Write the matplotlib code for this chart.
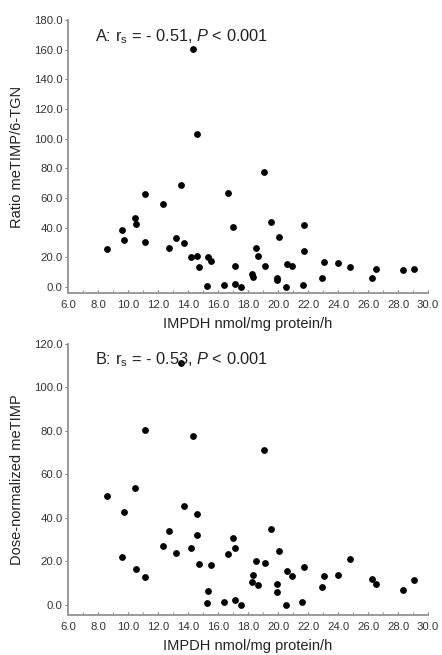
import numpy as np
import matplotlib
matplotlib.use('Agg')
import matplotlib.pyplot as plt
from matplotlib.ticker import MultipleLocator, FormatStrFormatter

plt.rcParams['font.family'] = ['Liberation Sans', 'DejaVu Sans']
plt.rcParams['mathtext.fontset'] = 'custom'
plt.rcParams['mathtext.rm'] = 'Liberation Sans'
plt.rcParams['mathtext.it'] = 'Liberation Sans:italic'

# Panel A: ratio meTIMP/6-TGN vs IMPDH activity
impdh_a = [8.6, 9.62, 9.7, 10.44, 10.55, 11.1, 11.1, 12.32, 12.72, 13.23,
           13.52, 13.7, 14.2, 14.3, 14.63, 14.63, 14.74, 15.34, 15.54, 15.27,
           16.43, 16.65, 17.02, 17.13, 17.13, 17.53, 18.25, 18.33, 18.53, 18.67,
           19.04, 19.15, 19.53, 19.93, 19.93, 20.04, 20.5, 20.62, 20.95, 21.64,
           21.73, 21.73, 22.93, 23.04, 24.03, 24.81, 26.25, 26.56, 28.36, 29.05]
ratio_a = [25.7, 38.4, 31.7, 46.5, 42.7, 62.6, 30.6, 55.9, 26.6, 33.1,
           69.1, 29.9, 20.1, 160.4, 103.4, 21.0, 13.2, 20.3, 17.9, 0.9,
           1.1, 63.5, 40.2, 13.9, 1.8, 0.2, 8.9, 6.7, 26.1, 21.0,
           77.5, 14.3, 44.0, 5.8, 4.5, 33.7, 0.2, 15.4, 13.9, 1.1,
           41.6, 24.4, 6.3, 17.2, 15.9, 13.4, 6.0, 12.3, 11.4, 12.3]

# Panel B: dose-normalized meTIMP vs IMPDH activity
impdh_b = [8.6, 9.62, 9.7, 10.44, 10.53, 11.1, 11.12, 12.32, 12.72, 13.23,
           13.54, 13.7, 14.2, 14.32, 14.63, 14.63, 14.74, 15.54, 15.32, 15.27,
           16.43, 16.65, 17.02, 17.13, 17.13, 17.53, 18.25, 18.33, 18.53, 18.67,
           19.04, 19.15, 19.53, 19.93, 19.93, 20.04, 20.5, 20.62, 20.95, 21.62,
           21.73, 22.93, 23.04, 24.03, 24.81, 26.25, 26.56, 28.36, 29.05]
metimp_b = [50.1, 22.0, 42.9, 54.0, 16.6, 13.0, 80.5, 27.3, 34.0, 24.1,
            111.1, 45.6, 26.1, 77.9, 41.8, 32.2, 18.8, 18.5, 6.6, 0.9,
            1.2, 23.5, 31.0, 26.1, 2.1, 0.0, 10.5, 14.0, 20.0, 9.0,
            71.2, 19.4, 34.8, 9.8, 6.1, 24.9, 0.0, 15.7, 13.4, 1.2,
            17.3, 8.1, 13.4, 14.0, 21.1, 12.1, 9.8, 6.9, 11.6]

fig = plt.figure(figsize=(4.42, 6.55), dpi=100)
ax_a = fig.add_axes([68/442, 1-293/655, 360/442, 273/655])
ax_b = fig.add_axes([68/442, 1-615/655, 360/442, 271/655])

panels = [
    (ax_a, impdh_a, ratio_a, (-4, 180), 20, 'Ratio meTIMP/6-TGN',
     r'A: r$_\mathregular{s}$ = - 0.51, $P$ < 0.001'),
    (ax_b, impdh_b, metimp_b, (-4.6, 120), 20, 'Dose-normalized meTIMP',
     r'B: r$_\mathregular{s}$ = - 0.53, $P$ < 0.001'),
]

for ax, xs, ys, ylim, ystep, ylabel, note in panels:
    ax.scatter(xs, ys, s=15, color='black', zorder=3, clip_on=False)
    ax.set_xlim(6, 30)
    ax.set_ylim(*ylim)
    ax.spines['top'].set_visible(False)
    ax.spines['right'].set_visible(False)
    for side in ['left', 'bottom']:
        ax.spines[side].set_color('#9a9a9a')
        ax.spines[side].set_linewidth(1.4)
    ax.xaxis.set_major_locator(MultipleLocator(2))
    ax.xaxis.set_minor_locator(MultipleLocator(1))
    ax.yaxis.set_major_locator(MultipleLocator(ystep))
    ax.xaxis.set_major_formatter(FormatStrFormatter('%.1f'))
    ax.yaxis.set_major_formatter(FormatStrFormatter('%.1f'))
    ax.tick_params(axis='x', which='both', direction='in', length=2,
                   color='#777777', labelsize=8.2, labelcolor='#333333', pad=5)
    ax.tick_params(axis='y', which='major', direction='out', length=2,
                   color='#777777', labelsize=8.2, labelcolor='#333333', pad=2)
    ax.set_xlabel('IMPDH nmol/mg protein/h', fontsize=10.5, color='#222222', labelpad=5)
    ax.set_ylabel(ylabel, fontsize=10.5, color='#222222', labelpad=7)
    ax.text(0.075, 0.975, note, transform=ax.transAxes, fontsize=11.8,
            color='#222222', va='top', ha='left')

fig.savefig('out.png', dpi=100)
